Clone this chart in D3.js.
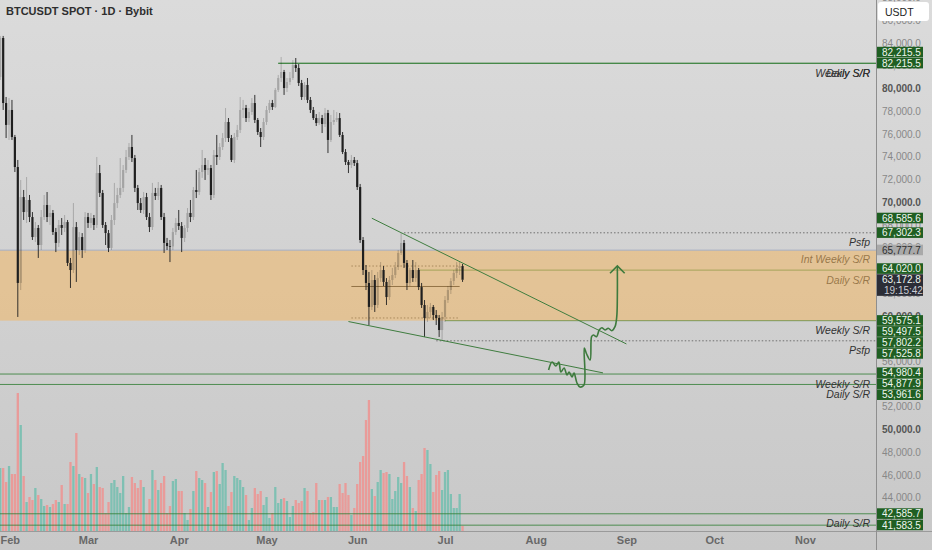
<!DOCTYPE html>
<html>
<head>
<meta charset="utf-8">
<script src="https://cdn.jsdelivr.net/npm/d3@7"></script>
<style>
  html, body { margin: 0; padding: 0; overflow: hidden; background: #d3d3d3; }
  svg { display: block; font-family: "Liberation Sans", Arial, sans-serif; }
</style>
</head>
<body>
<svg id="chart" width="932" height="550"></svg>
<script>
// ---- data ----
const title = "BTCUSDT SPOT · 1D · Bybit";
const firstDay = "2025-01-30";

// daily candles [open, high, low, close] in thousands USDT
const candles = [
  [81.01,84.62,80.75,84.44],[84.44,84.62,78.11,78.72],[78.72,79.25,75.64,76.79],[76.79,79.16,75.47,78.11],
  [78.11,78.99,75.47,75.73],[75.73,75.91,72.65,73.09],[73.09,73.71,59.90,62.89],[62.89,71.95,62.27,70.45],
  [70.45,71.07,68.43,69.13],[69.13,72.21,68.17,70.19],[70.19,70.63,68.25,68.69],[68.69,69.13,66.67,66.93],
  [66.93,68.25,66.49,67.73],[67.73,67.99,65.09,66.23],[66.23,69.31,65.79,68.69],[68.69,70.63,68.43,69.75],
  [69.75,70.89,68.25,68.69],[68.69,69.75,67.99,69.05],[69.05,69.31,67.11,67.37],[67.37,67.73,65.61,66.41],
  [66.41,68.43,66.05,67.99],[67.99,68.60,67.11,67.73],[67.73,68.87,67.37,68.25],[68.25,68.43,64.38,64.65],
  [64.65,65.09,62.45,64.03],[64.03,69.92,63.77,67.81],[67.81,68.25,62.98,65.79],[65.79,67.37,65.35,66.93],
  [66.93,67.28,65.09,65.79],[65.79,69.13,65.53,68.69],[68.69,69.05,67.73,68.17],[68.17,69.05,67.73,68.60],
  [68.60,68.87,67.55,67.99],[67.99,73.97,67.73,72.56],[72.56,73.27,70.45,70.81],[70.81,71.07,67.73,67.99],
  [67.99,68.25,66.23,67.28],[67.28,67.55,65.61,65.97],[65.97,68.87,65.79,68.43],[68.43,71.69,67.99,69.92],
  [69.92,71.25,69.48,70.63],[70.63,73.88,70.36,71.25],[71.25,73.27,70.89,72.83],[72.83,74.59,72.56,73.97],
  [73.97,75.20,73.71,74.85],[74.85,75.91,73.53,73.88],[73.88,74.15,70.89,71.25],[71.25,71.51,69.31,69.92],
  [69.92,70.36,69.05,69.31],[69.31,70.89,68.96,70.45],[70.45,70.81,68.43,68.69],[68.69,69.05,67.37,67.81],
  [67.81,71.69,67.55,70.81],[70.81,71.25,70.19,70.54],[70.54,71.77,70.19,71.25],[71.25,71.51,68.43,68.69],
  [68.69,69.05,65.53,66.41],[66.41,66.85,65.79,66.14],[66.14,66.67,64.73,66.10],[66.10,67.73,65.79,67.37],
  [67.37,68.60,67.11,68.17],[68.17,69.31,67.55,67.90],[67.90,68.25,65.61,66.85],[66.85,67.99,66.49,67.73],
  [67.73,69.48,67.37,69.05],[69.05,70.19,68.25,68.69],[68.69,71.33,68.43,71.07],[71.07,72.83,70.36,70.89],
  [70.89,73.00,70.63,72.65],[72.65,74.59,72.13,73.27],[73.27,73.88,71.95,72.83],[72.83,73.71,72.39,73.00],
  [73.00,73.27,70.19,70.63],[70.63,74.59,70.36,74.15],[74.15,75.91,73.27,73.97],[73.97,75.20,73.71,74.85],
  [74.85,76.08,74.59,75.64],[75.64,78.28,75.29,77.05],[77.05,77.40,75.29,75.64],[75.64,75.91,73.53,73.71],
  [73.71,76.08,73.44,75.73],[75.73,76.79,75.47,76.35],[76.35,79.25,76.08,78.11],[78.11,78.99,77.40,78.28],
  [78.28,78.55,77.05,77.40],[77.40,78.28,77.05,77.93],[77.93,79.16,77.67,78.72],[78.72,79.43,76.96,77.23],
  [77.23,77.40,75.91,76.17],[76.17,76.52,74.85,75.73],[75.73,77.40,75.47,77.05],[77.05,78.46,76.79,78.11],
  [78.11,78.99,77.84,78.72],[78.72,78.99,78.11,78.37],[78.37,80.04,78.28,79.87],[79.87,81.19,79.69,80.92],
  [80.92,82.77,80.57,81.45],[81.45,81.63,79.43,80.04],[80.04,80.92,79.69,80.57],[80.57,81.45,80.31,80.92],
  [80.92,82.50,80.75,82.06],[82.06,82.68,81.45,81.80],[81.80,82.15,80.22,80.48],[80.48,80.75,78.99,79.25],
  [79.25,80.57,78.99,80.31],[80.31,80.92,78.72,78.99],[78.99,79.25,77.84,78.11],[78.11,78.37,77.23,77.40],
  [77.40,77.75,76.70,76.96],[76.96,77.93,76.79,77.40],[77.40,77.67,76.08,76.87],[76.87,78.28,76.61,77.84],
  [77.84,78.11,74.32,75.47],[75.47,77.67,75.29,77.05],[77.05,78.11,76.79,77.23],[77.23,77.93,77.05,77.40],
  [77.40,77.84,75.73,75.91],[75.91,76.17,74.23,74.41],[74.41,74.67,73.27,73.53],[73.53,73.71,72.56,73.27],
  [73.27,74.15,73.00,73.71],[73.71,73.97,73.18,73.44],[73.44,73.71,71.07,71.33],[71.33,71.60,66.41,66.67],
  [66.67,66.93,63.59,64.03],[64.03,64.47,62.27,62.89],[62.89,63.86,59.19,60.78],[60.78,64.03,60.51,63.15],
  [63.15,63.59,60.34,60.95],[60.95,63.86,60.69,63.32],[63.32,64.73,62.98,64.03],[64.03,64.38,62.62,62.98],
  [62.98,63.32,60.95,61.65],[61.65,63.50,61.39,63.15],[63.15,64.21,62.71,63.59],[63.59,64.73,63.32,64.29],
  [64.29,65.79,64.03,65.53],[65.53,67.28,65.35,66.41],[66.41,66.67,64.21,64.65],[64.65,64.91,62.27,62.89],
  [62.89,64.21,62.62,64.03],[64.03,64.91,62.98,63.32],[63.32,64.73,62.98,64.03],[64.03,64.21,62.27,62.53],
  [62.53,62.89,60.69,60.95],[60.95,61.39,58.14,59.81],[59.81,60.95,59.46,60.34],[60.34,61.13,59.81,60.78],
  [60.78,60.95,59.63,60.07],[60.07,60.51,59.19,59.81],[59.81,60.07,58.14,58.75],[58.75,60.34,57.87,59.90],
  [59.90,61.74,59.46,61.39],[61.39,62.62,61.13,62.27],[62.27,63.32,61.92,63.06],[63.06,64.03,62.71,63.77],
  [63.77,64.73,63.32,64.21],[64.21,64.73,63.59,64.38],[64.38,64.56,62.98,63.17]
];

// relative daily volume (no scale shown on the chart)
const volumes = [
  63,63,49,65,57,57,138,106,55,29, 34,31,43,36,32,25,26,24,27,31,
  29,46,27,27,69,65,98,57,54,53, 38,57,47,64,44,43,18,29,48,51,
  44,38,55,18,24,54,48,43,51,44, 18,32,61,51,41,48,55,18,25,50,
  52,40,40,18,11,22,40,60,53,51, 48,24,39,59,60,47,68,61,25,39,
  55,53,51,44,36,11,23,43,37,40, 26,34,13,18,44,28,32,33,30,14,
  25,31,28,30,43,40,18,19,48,31, 31,31,34,34,24,24,47,38,48,36,
  16,23,47,69,75,111,131,42,35,49, 61,58,59,57,32,40,54,48,69,55,
  44,23,20,51,57,83,81,67,39,56, 60,41,59,61,37,23,23,37,5
];

// horizontal S/R lines
const levels = [
  { price: 82215.5, from: "2025-05-05", below: "Weekly S/R" },
  { price: 82215.5, from: "2025-05-05", below: "Daily S/R" },
  { price: 64020.0, from: "2025-06-22", above: "Int Weekly S/R", below: "Daily S/R" },
  { price: 59575.1, from: "2025-07-01", below: "Weekly S/R" },
  { price: 54877.9, from: "2025-01-01", below: "Weekly S/R" },
  { price: 53961.6, from: "2025-01-01", below: "Daily S/R" },
  { price: 42585.7, from: "2025-01-01", below: "Daily S/R" },
  { price: 41583.5, from: "2025-01-01", below: "Weekly S/R" }
];
const psfpLevels = [
  { price: 67302.3, from: "2025-06-17", below: "Psfp" },
  { price: 57802.2, from: "2025-06-28", below: "Psfp" }
];
const zone = { top: 65777.7, bottom: 59575.1 };
const range = { from: "2025-05-30", to: "2025-07-06", vah: 64380, poc: 62580, val: 59810 };
const trendLines = [
  [["2025-06-06", 68585.6], ["2025-09-01", 57525.8]],
  [["2025-05-29", 59497.5], ["2025-08-24", 54980.4]]
];
// hand-drawn projection: [days after firstDay, price]
const projection = [
  [187.4,55234],[188.6,55937],[189.9,55585],[190.9,55937],[191.6,55058],[192.7,55410],
  [193.7,54794],[194.4,55058],[195.4,54618],[196.1,54970],[197.1,54090],[198.1,53738],
  [199.5,53914],[199.6,57169],[200.4,56641],[201.6,56113],[202.1,58164],[202.7,58313],
  [203.8,58164],[204.7,58753],[205.6,58955],[206.7,58753],[207.8,58903],[209.0,58692],
  [210.1,59043],[210.7,59923],[210.9,61682],[210.9,64295]
];
const arrowHead = [[208.4,63741],[210.9,64383],[213.4,63741]];
const lastPrice = 63172.8;
const countdown = "19:15:42";
const currency = "USDT";

// ---- layout ----
const paneR = 876, paneB = 531;
const fmt = d3.format(",.1f");
const parse = d3.utcParse("%Y-%m-%d");
const day0 = parse(firstDay);
const atDay = n => new Date(+day0 + n * 864e5);

const x = d3.scaleUtc()
  .domain([day0, d3.utcDay.offset(day0, 214)])
  .range([0.25, 0.25 + 214 * 2.926]);
const y = d3.scaleLinear().domain([44000, 84000]).range([497.7, 43]);
const yVol = d3.scaleLinear().domain([0, d3.max(volumes)]).range([paneB, 393]);

const bars = candles.map((c, i) => ({
  date: d3.utcDay.offset(day0, i),
  o: c[0] * 1000, h: c[1] * 1000, l: c[2] * 1000, c: c[3] * 1000,
  v: volumes[i]
}));

const svg = d3.select("#chart");
const defs = svg.append("defs");
const grad = defs.append("linearGradient").attr("id", "bg").attr("x1", 0).attr("y1", 0).attr("x2", 0).attr("y2", 1);
grad.append("stop").attr("offset", "0%").attr("stop-color", "#dbdbdb");
grad.append("stop").attr("offset", "100%").attr("stop-color", "#c8c8c8");
defs.append("clipPath").attr("id", "pane").append("rect")
  .attr("width", paneR).attr("height", paneB);

svg.append("rect").attr("width", 932).attr("height", 550).attr("fill", "url(#bg)");

const pane = svg.append("g").attr("clip-path", "url(#pane)");

// volume
pane.append("g").selectAll("rect").data(bars).join("rect")
  .attr("x", d => x(d.date) - 1.15)
  .attr("width", 2.3)
  .attr("y", d => yVol(d.v))
  .attr("height", d => paneB - yVol(d.v))
  .attr("fill", d => d.c >= d.o ? "#7fc0b3" : "#e99b99");

// S/R lines with their labels
const lvl = pane.append("g");
lvl.selectAll("line").data(levels).join("line")
  .attr("x1", d => x(parse(d.from))).attr("x2", paneR)
  .attr("y1", d => y(d.price)).attr("y2", d => y(d.price))
  .attr("stroke", "rgba(46,125,50,0.8)").attr("stroke-width", 1);
const psfp = pane.append("g");
psfp.selectAll("line").data(psfpLevels).join("line")
  .attr("x1", d => x(parse(d.from))).attr("x2", paneR)
  .attr("y1", d => y(d.price)).attr("y2", d => y(d.price))
  .attr("stroke", "#6f6f6f").attr("stroke-width", 1).attr("stroke-dasharray", "1.5,2");

const labelData = [];
levels.concat(psfpLevels).forEach(d => {
  if (d.below) labelData.push({ text: d.below, y: y(d.price) + 10 });
  if (d.above) labelData.push({ text: d.above, y: y(d.price) - 11 });
});
pane.append("g").selectAll("text").data(labelData).join("text")
  .attr("x", 870).attr("y", d => d.y).attr("dy", "0.35em")
  .attr("text-anchor", "end")
  .attr("font-size", 10.5).attr("font-style", "italic")
  .attr("fill", "#333").text(d => d.text);

// fixed range profile lines
const rx1 = x(parse(range.from)), rx2 = x(parse(range.to));
pane.append("line").attr("x1", rx1).attr("x2", rx2).attr("y1", y(range.poc)).attr("y2", y(range.poc))
  .attr("stroke", "#2b2b2b").attr("stroke-width", 1);
pane.selectAll(".va").data([range.vah, range.val]).join("line")
  .attr("x1", rx1).attr("x2", rx2).attr("y1", d => y(d)).attr("y2", d => y(d))
  .attr("stroke", "#555").attr("stroke-dasharray", "1.5,2");

// orange zone
pane.append("rect")
  .attr("x", 0).attr("width", paneR)
  .attr("y", y(zone.top)).attr("height", y(zone.bottom) - y(zone.top))
  .attr("fill", "rgba(243,183,95,0.52)");
pane.append("line").attr("x1", 0).attr("x2", paneR)
  .attr("y1", y(zone.top)).attr("y2", y(zone.top))
  .attr("stroke", "#a6aec4").attr("stroke-width", 1);

// candles
const cg = pane.append("g");
bars.forEach(d => {
  const up = d.c >= d.o;
  const col = up ? "rgba(0,0,0,0.23)" : "#1f1f1f";
  const cx = x(d.date);
  const top = y(Math.max(d.o, d.c)), bot = y(Math.min(d.o, d.c));
  cg.append("line").attr("x1", cx).attr("x2", cx).attr("y1", y(d.h)).attr("y2", top)
    .attr("stroke", col).attr("stroke-width", 0.9);
  cg.append("line").attr("x1", cx).attr("x2", cx).attr("y1", bot).attr("y2", y(d.l))
    .attr("stroke", col).attr("stroke-width", 0.9);
  cg.append("rect").attr("x", cx - 1.1).attr("width", 2.2)
    .attr("y", top).attr("height", Math.max(0.8, bot - top)).attr("fill", col);
});

// trend lines
pane.append("g").selectAll("line").data(trendLines).join("line")
  .attr("x1", d => x(parse(d[0][0]))).attr("y1", d => y(d[0][1]))
  .attr("x2", d => x(parse(d[1][0]))).attr("y2", d => y(d[1][1]))
  .attr("stroke", "#3f7d3f").attr("stroke-width", 1);

// projection path + arrow
const pline = d3.line().x(d => x(atDay(d[0]))).y(d => y(d[1]));
pane.append("path").datum(projection)
  .attr("d", pline.curve(d3.curveCatmullRom.alpha(0.5)))
  .attr("fill", "none").attr("stroke", "#3d7a3d").attr("stroke-width", 1.6);
pane.append("path").datum(arrowHead)
  .attr("d", d3.line().x(d => x(atDay(d[0]))).y(d => y(d[1])))
  .attr("fill", "none").attr("stroke", "#3d7a3d").attr("stroke-width", 1.6);

// title
svg.append("text").attr("x", 6).attr("y", 11).attr("dy", "0.35em")
  .attr("font-size", 11).attr("font-weight", 600).attr("fill", "#2e2e2e")
  .text(title);

// separators
svg.append("line").attr("x1", 0).attr("x2", 932).attr("y1", paneB + 0.5).attr("y2", paneB + 0.5)
  .attr("stroke", "#9a9a9a");
svg.append("line").attr("x1", paneR + 0.5).attr("x2", paneR + 0.5).attr("y1", 0).attr("y2", 550)
  .attr("stroke", "#8e8e8e");

// price axis
const yAxis = svg.append("g").attr("transform", `translate(${paneR},0)`)
  .call(d3.axisRight(y).tickValues(d3.range(42000, 88001, 2000))
    .tickSize(0).tickPadding(6).tickFormat(fmt));
yAxis.select(".domain").remove();
yAxis.selectAll("text")
  .attr("font-family", "'Liberation Sans', Arial, sans-serif")
  .attr("font-size", 10)
  .attr("fill", d => d % 10000 === 0 ? "#555" : "#888")
  .attr("font-weight", d => d % 10000 === 0 ? 600 : 400);

// time axis
const xAxis = svg.append("g").attr("transform", `translate(0,${paneB})`)
  .call(d3.axisBottom(x)
    .tickValues(d3.utcMonth.range(parse("2025-02-01"), parse("2025-12-01")))
    .tickSize(0).tickPadding(5).tickFormat(d3.utcFormat("%b")));
xAxis.select(".domain").remove();
xAxis.selectAll("text")
  .attr("font-family", "'Liberation Sans', Arial, sans-serif")
  .attr("font-size", 11).attr("font-weight", 700).attr("fill", "#686868");
// keep the first month label inside the frame
xAxis.selectAll(".tick").each(function () {
  const t = d3.select(this), tx = +t.attr("transform").match(/[-\d.]+/)[0];
  if (tx < 10) t.select("text").attr("text-anchor", "start").attr("x", -tx + 0.5);
});

// price badges, stacked so they don't overlap
const badges = [];
levels.forEach(d => badges.push({ price: d.price, kind: "level" }));
psfpLevels.forEach(d => badges.push({ price: d.price, kind: "level" }));
trendLines.forEach(t => t.forEach(p => badges.push({ price: p[1], kind: "level" })));
badges.push({ price: zone.top, kind: "zone" });
badges.push({ price: lastPrice, kind: "last" });

const bh = 11;
badges.forEach(b => { b.h = b.kind === "last" ? 22 : bh; b.top = y(b.price) - bh / 2; });
badges.sort((a, b) => a.top - b.top);
for (let i = 1; i < badges.length; i++) {
  const p = badges[i - 1], b = badges[i];
  const over = p.top + p.h - b.top;
  if (over > 0) {
    if (b.kind === "last" || b.price === p.price) p.top -= over;
    else b.top += over;
  }
}
const bg = svg.append("g");
badges.forEach(b => {
  const fill = b.kind === "last" ? "#2b2d36" : b.kind === "zone" ? "#a9a9a9" : "#1f5f22";
  const tc = b.kind === "zone" ? "#2e2e2e" : "#eef6ee";
  bg.append("rect").attr("x", paneR + 1).attr("y", b.top).attr("width", 46).attr("height", b.h - 0.4)
    .attr("fill", fill);
  bg.append("text").attr("x", paneR + 6).attr("y", b.top + bh / 2).attr("dy", "0.36em")
    .attr("font-size", 10).attr("fill", tc).text(fmt(b.price));
  if (b.kind === "last") {
    bg.append("text").attr("x", paneR + 8).attr("y", b.top + bh / 2 + 10.5).attr("dy", "0.36em")
      .attr("font-size", 10).attr("fill", "#c9cbd2").text(countdown);
  }
});

// currency box
svg.append("rect").attr("x", 878).attr("y", 2).attr("width", 51).attr("height", 19).attr("rx", 3)
  .attr("fill", "#fff");
svg.append("text").attr("x", 885).attr("y", 12).attr("dy", "0.35em")
  .attr("font-size", 10.5).attr("fill", "#1e1e1e").text(currency);
</script>
</body>
</html>
